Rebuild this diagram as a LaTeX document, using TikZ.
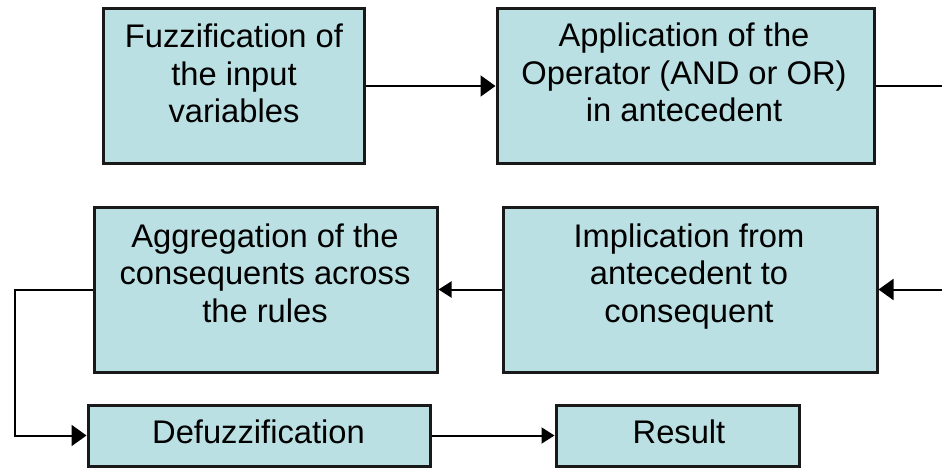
\documentclass[tikz,border=0pt]{standalone}
\usepackage{fontspec}
\setmainfont{Liberation Sans}
\usetikzlibrary{arrows.meta}
\definecolor{boxfill}{RGB}{187,224,227}
\begin{document}
\begin{tikzpicture}[x=1pt,y=-1pt,
  box/.style={draw=black!90, line width=3pt, fill=boxfill, inner sep=0pt},
  txt/.style={anchor=base, inner sep=0pt, font=\fontsize{32.7}{37.5}\selectfont},
  conn/.style={line width=2pt, -{Triangle[length=15pt,width=21pt]}},
  smallconn/.style={line width=2pt, -{Triangle[length=13pt,width=16pt]}},
  plain/.style={line width=2pt}]
\useasboundingbox (0,0) rectangle (942,468);
% boxes
\node[box, minimum width=261pt, minimum height=154pt] (b1) at (233.5,86) {};
\node[box, minimum width=377pt, minimum height=154pt] (b2) at (685.5,86) {};
\node[box, minimum width=374pt, minimum height=165pt] (b3) at (690,289.5) {};
\node[box, minimum width=343pt, minimum height=165pt] (b4) at (265.5,289.5) {};
\node[box, minimum width=342pt, minimum height=61pt] (b5) at (259,435.5) {};
\node[box, minimum width=243pt, minimum height=61pt] (b6) at (677.5,435.5) {};
% texts
\node[txt] (t1) at (234,48) {\begin{tabular}[t]{@{}c@{}}Fuzzification of\\the input\\variables\end{tabular}};
\node[txt] (t2) at (684,47) {\begin{tabular}[t]{@{}c@{}}Application of the\\Operator (AND or OR)\\in antecedent\end{tabular}};
\node[txt] (t3) at (689,247) {\begin{tabular}[t]{@{}c@{}}Implication from\\antecedent to\\consequent\end{tabular}};
\node[txt] (t4) at (265,247) {\begin{tabular}[t]{@{}c@{}}Aggregation of the\\consequents across\\the rules\end{tabular}};
\node[txt] (t5) at (258.5,443) {Defuzzification};
\node[txt] (t6) at (679,443) {Result};
% connector end points at the picture edge
\coordinate (e1) at (942,86);
\coordinate (e2) at (942,289.5);
\coordinate (c1) at (15,289.5);
% connectors
\draw[conn] (b1) -- (b2);
\draw[plain] (b2) -- (e1);
\draw[conn] (e2) -- (b3.east);
\draw[smallconn] (b3) -- (b4);
\draw[conn] (b4.west) -- (c1) |- (b5.west);
\draw[smallconn] (b5) -- (b6);
\end{tikzpicture}
\end{document}
